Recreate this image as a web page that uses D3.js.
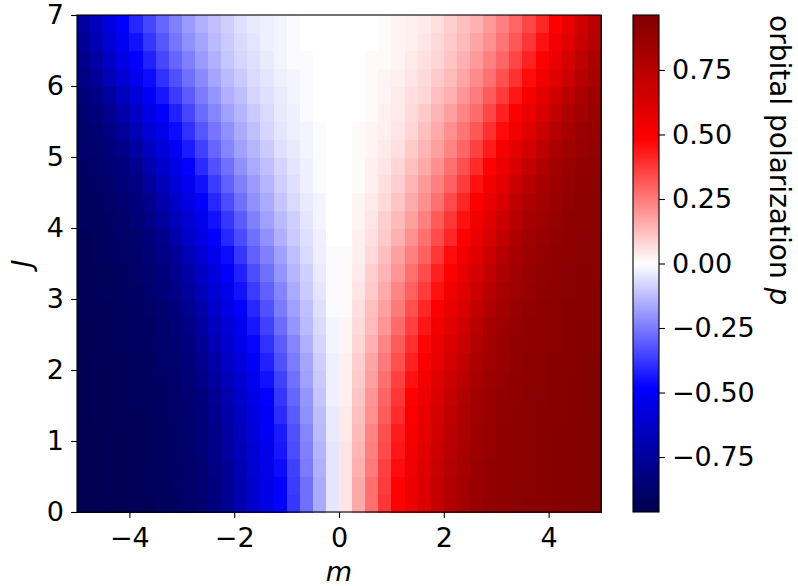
<!DOCTYPE html>
<html>
<head>
<meta charset="utf-8">
<script src="https://cdn.jsdelivr.net/npm/d3@7"></script>
<style>
  body { margin: 0; background: #fff; }
  text { font-family: "DejaVu Sans", sans-serif; }
</style>
</head>
<body>
<script>
// cell centres of the map
const mCenters = [-4.875,-4.625,-4.375,-4.125,-3.875,-3.625,-3.375,-3.125,-2.875,-2.625,
  -2.375,-2.125,-1.875,-1.625,-1.375,-1.125,-0.875,-0.625,-0.375,-0.125,
  0.125,0.375,0.625,0.875,1.125,1.375,1.625,1.875,2.125,2.375,
  2.625,2.875,3.125,3.375,3.625,3.875,4.125,4.375,4.625,4.875]
const jCenters = [0.125,0.375,0.625,0.875,1.125,1.375,1.625,1.875,2.125,2.375,2.625,2.875,3.125,3.375,
  3.625,3.875,4.125,4.375,4.625,4.875,5.125,5.375,5.625,5.875,6.125,6.375,6.625,6.875]

// orbital polarization p in hundredths, one row per J (bottom row first)
const pRows = [
  [-95,-95,-94,-94,-93,-93,-92,-91,-89,-87,-83,-78,-70,-62,-55,-48,-38,-27,-16,-5, 5,16,27,38,48,55,62,70,78,83,87,89,91,92,93,93,94,94,95,95],
  [-95,-95,-94,-94,-93,-92,-92,-90,-89,-86,-83,-78,-70,-62,-55,-48,-37,-27,-16,-5, 5,16,27,37,48,55,62,70,78,83,86,89,90,92,92,93,94,94,95,95],
  [-95,-95,-94,-94,-93,-92,-91,-90,-89,-86,-82,-77,-69,-61,-54,-46,-36,-25,-15,-5, 5,15,25,36,46,54,61,69,77,82,86,89,90,91,92,93,94,94,95,95],
  [-95,-95,-94,-94,-93,-92,-91,-90,-88,-85,-81,-75,-67,-60,-53,-44,-34,-24,-14,-5, 5,14,24,34,44,53,60,67,75,81,85,88,90,91,92,93,94,94,95,95],
  [-95,-95,-94,-94,-93,-92,-91,-90,-88,-85,-80,-74,-66,-58,-51,-43,-33,-23,-13,-4, 4,13,23,33,43,51,58,66,74,80,85,88,90,91,92,93,94,94,95,95],
  [-95,-94,-94,-93,-93,-92,-91,-89,-87,-84,-79,-72,-64,-57,-50,-40,-31,-21,-12,-4, 4,12,21,31,40,50,57,64,72,79,84,87,89,91,92,93,93,94,94,95],
  [-95,-94,-94,-93,-92,-92,-90,-89,-86,-83,-78,-70,-62,-55,-48,-38,-29,-20,-11,-3, 3,11,20,29,38,48,55,62,70,78,83,86,89,90,92,92,93,94,94,95],
  [-95,-94,-94,-93,-92,-91,-90,-88,-85,-81,-75,-67,-60,-53,-45,-36,-27,-18,-10,-3, 3,10,18,27,36,45,53,60,67,75,81,85,88,90,91,92,93,94,94,95],
  [-95,-94,-93,-93,-92,-91,-89,-87,-84,-79,-72,-64,-57,-50,-42,-33,-25,-17,-9,-3, 3,9,17,25,33,42,50,57,64,72,79,84,87,89,91,92,93,93,94,95],
  [-94,-94,-93,-92,-91,-90,-89,-86,-83,-77,-69,-62,-55,-47,-39,-31,-23,-15,-8,-2, 2,8,15,23,31,39,47,55,62,69,77,83,86,89,90,91,92,93,94,94],
  [-94,-94,-93,-92,-91,-90,-88,-85,-81,-74,-66,-59,-52,-44,-36,-28,-20,-13,-7,-2, 2,7,13,20,28,36,44,52,59,66,74,81,85,88,90,91,92,93,94,94],
  [-94,-93,-93,-92,-91,-89,-87,-83,-78,-71,-63,-56,-49,-41,-33,-25,-18,-12,-6,-1, 1,6,12,18,25,33,41,49,56,63,71,78,83,87,89,91,92,93,93,94],
  [-94,-93,-92,-91,-90,-88,-85,-81,-75,-67,-60,-53,-45,-37,-30,-23,-16,-10,-5,-1, 1,5,10,16,23,30,37,45,53,60,67,75,81,85,88,90,91,92,93,94],
  [-93,-93,-92,-91,-89,-87,-84,-79,-72,-64,-57,-49,-42,-34,-27,-20,-14,-9,-4,-1, 1,4,9,14,20,27,34,42,49,57,64,72,79,84,87,89,91,92,93,93],
  [-93,-92,-91,-90,-88,-85,-81,-76,-68,-60,-53,-46,-38,-30,-24,-18,-12,-7,-3,-1, 1,3,7,12,18,24,30,38,46,53,60,68,76,81,85,88,90,91,92,93],
  [-93,-92,-91,-89,-87,-84,-79,-71,-63,-56,-49,-41,-34,-27,-21,-15,-10,-6,-3,0, 0,3,6,10,15,21,27,34,41,49,56,63,71,79,84,87,89,91,92,93],
  [-92,-91,-90,-88,-85,-81,-75,-67,-60,-53,-45,-38,-31,-24,-18,-13,-9,-5,-2,0, 0,2,5,9,13,18,24,31,38,45,53,60,67,75,81,85,88,90,91,92],
  [-92,-91,-89,-87,-83,-79,-71,-63,-56,-49,-41,-34,-27,-21,-16,-11,-7,-4,-2,0, 0,2,4,7,11,16,21,27,34,41,49,56,63,71,79,83,87,89,91,92],
  [-91,-90,-88,-85,-81,-75,-67,-59,-52,-45,-37,-30,-24,-19,-14,-9,-6,-3,-1,0, 0,1,3,6,9,14,19,24,30,37,45,52,59,67,75,81,85,88,90,91],
  [-90,-89,-86,-83,-78,-70,-62,-55,-48,-40,-33,-27,-21,-16,-12,-8,-5,-3,-1,0, 0,1,3,5,8,12,16,21,27,33,40,48,55,62,70,78,83,86,89,90],
  [-89,-87,-84,-80,-73,-65,-58,-51,-43,-36,-29,-23,-18,-14,-10,-6,-4,-2,-1,0, 0,1,2,4,6,10,14,18,23,29,36,43,51,58,65,73,80,84,87,89],
  [-88,-86,-82,-76,-68,-60,-53,-46,-39,-32,-26,-21,-16,-12,-8,-5,-3,-2,-1,0, 0,1,2,3,5,8,12,16,21,26,32,39,46,53,60,68,76,82,86,88],
  [-87,-83,-79,-71,-63,-56,-49,-42,-35,-28,-23,-18,-14,-10,-7,-4,-3,-1,0,0, 0,0,1,3,4,7,10,14,18,23,28,35,42,49,56,63,71,79,83,87],
  [-85,-80,-74,-66,-58,-51,-44,-37,-31,-25,-20,-15,-12,-8,-6,-4,-2,-1,0,0, 0,0,1,2,4,6,8,12,15,20,25,31,37,44,51,58,66,74,80,85],
  [-82,-76,-68,-60,-53,-46,-39,-33,-27,-22,-17,-13,-10,-7,-5,-3,-2,-1,0,0, 0,0,1,2,3,5,7,10,13,17,22,27,33,39,46,53,60,68,76,82],
  [-80,-73,-64,-56,-49,-42,-35,-29,-24,-19,-15,-11,-8,-6,-4,-2,-1,-1,0,0, 0,0,1,1,2,4,6,8,11,15,19,24,29,35,42,49,56,64,73,80],
  [-77,-69,-60,-52,-45,-38,-32,-26,-21,-17,-13,-10,-7,-5,-3,-2,-1,0,0,0, 0,0,0,1,2,3,5,7,10,13,17,21,26,32,38,45,52,60,69,77],
  [-75,-66,-57,-49,-41,-35,-29,-24,-19,-15,-12,-9,-6,-4,-3,-2,-1,0,0,0, 0,0,0,1,2,3,4,6,9,12,15,19,24,29,35,41,49,57,66,75]
]

const xTicks = [-4, -2, 0, 2, 4]
const yTicks = [0, 1, 2, 3, 4, 5, 6, 7]
const cbarTicks = [-0.75, -0.5, -0.25, 0, 0.25, 0.5, 0.75]
const pLimit = 0.963

const width = 798
const height = 586
const plot = { left: 77, right: 601, top: 15, bottom: 512 }
const cbar = { left: 633, right: 659 }
const fontSize = 27

const x = d3.scaleLinear().domain([-5, 5]).range([plot.left, plot.right])
const y = d3.scaleLinear().domain([0, 7]).range([plot.bottom, plot.top])

// matplotlib "seismic"
const color = d3.scaleLinear()
    .domain([-pLimit, -pLimit / 2, 0, pLimit / 2, pLimit])
    .range(["rgb(0,0,77)", "rgb(0,0,255)", "rgb(255,255,255)", "rgb(255,0,0)", "rgb(128,0,0)"])
    .clamp(true)

const svg = d3.select("body").append("svg")
    .attr("width", width)
    .attr("height", height)
    .attr("xmlns", "http://www.w3.org/2000/svg")

const dm = mCenters[1] - mCenters[0]
const dj = jCenters[1] - jCenters[0]

const cells = []
pRows.forEach((row, i) => row.forEach((v, k) => cells.push({ m: mCenters[k], j: jCenters[i], p: v / 100 })))

svg.append("g")
    .attr("shape-rendering", "crispEdges")
    .selectAll("rect")
    .data(cells)
    .join("rect")
    .attr("x", d => x(d.m - dm / 2))
    .attr("y", d => y(d.j + dj / 2))
    .attr("width", d => x(d.m + dm / 2) - x(d.m - dm / 2) + 0.5)
    .attr("height", d => y(d.j - dj / 2) - y(d.j + dj / 2) + 0.5)
    .attr("fill", d => color(d.p))

const styleAxis = g => {
    g.attr("font-size", null).attr("font-family", null)
    g.select(".domain").remove()
    g.selectAll(".tick line").attr("stroke", "#000").attr("stroke-width", 1.1)
    g.selectAll(".tick text").attr("fill", "#000").style("font-size", fontSize + "px")
}

svg.append("g")
    .attr("transform", `translate(0,${plot.bottom})`)
    .call(d3.axisBottom(x).tickValues(xTicks).tickSize(6).tickPadding(10).tickFormat(d3.format("d")))
    .call(styleAxis)

svg.append("g")
    .attr("transform", `translate(${plot.left},0)`)
    .call(d3.axisLeft(y).tickValues(yTicks).tickSize(6).tickPadding(7).tickFormat(d3.format("d")))
    .call(styleAxis)

svg.append("rect")
    .attr("x", plot.left)
    .attr("y", plot.top)
    .attr("width", plot.right - plot.left)
    .attr("height", plot.bottom - plot.top)
    .attr("fill", "none")
    .attr("stroke", "#000")
    .attr("stroke-width", 1.1)

svg.append("text")
    .attr("x", (plot.left + plot.right) / 2)
    .attr("y", 581)
    .attr("text-anchor", "middle")
    .style("font-size", fontSize + "px")
    .style("font-style", "italic")
    .text("m")

svg.append("text")
    .attr("transform", `translate(31,${(plot.top + plot.bottom) / 2}) rotate(-90)`)
    .attr("text-anchor", "middle")
    .style("font-size", fontSize + "px")
    .style("font-style", "italic")
    .text("J")

// colorbar
const cy = d3.scaleLinear().domain([-pLimit, pLimit]).range([plot.bottom, plot.top])

const grad = svg.append("defs").append("linearGradient")
    .attr("id", "cbar-grad")
    .attr("x1", 0).attr("y1", 1).attr("x2", 0).attr("y2", 0)

grad.selectAll("stop")
    .data(color.domain())
    .join("stop")
    .attr("offset", d => (d + pLimit) / (2 * pLimit))
    .attr("stop-color", d => color(d))

svg.append("rect")
    .attr("x", cbar.left)
    .attr("y", plot.top)
    .attr("width", cbar.right - cbar.left)
    .attr("height", plot.bottom - plot.top)
    .attr("fill", "url(#cbar-grad)")
    .attr("stroke", "#000")
    .attr("stroke-width", 1.1)

svg.append("g")
    .attr("transform", `translate(${cbar.right},0)`)
    .call(d3.axisRight(cy).tickValues(cbarTicks).tickSize(6).tickPadding(7).tickFormat(d3.format(".2f")))
    .call(styleAxis)

const cbarLabel = svg.append("text")
    .attr("transform", `translate(770,${plot.top}) rotate(90)`)
    .attr("text-anchor", "start")
    .style("font-size", "28px")

cbarLabel.append("tspan").text("orbital polarization ")
cbarLabel.append("tspan").style("font-style", "italic").text("p")
</script>
</body>
</html>
